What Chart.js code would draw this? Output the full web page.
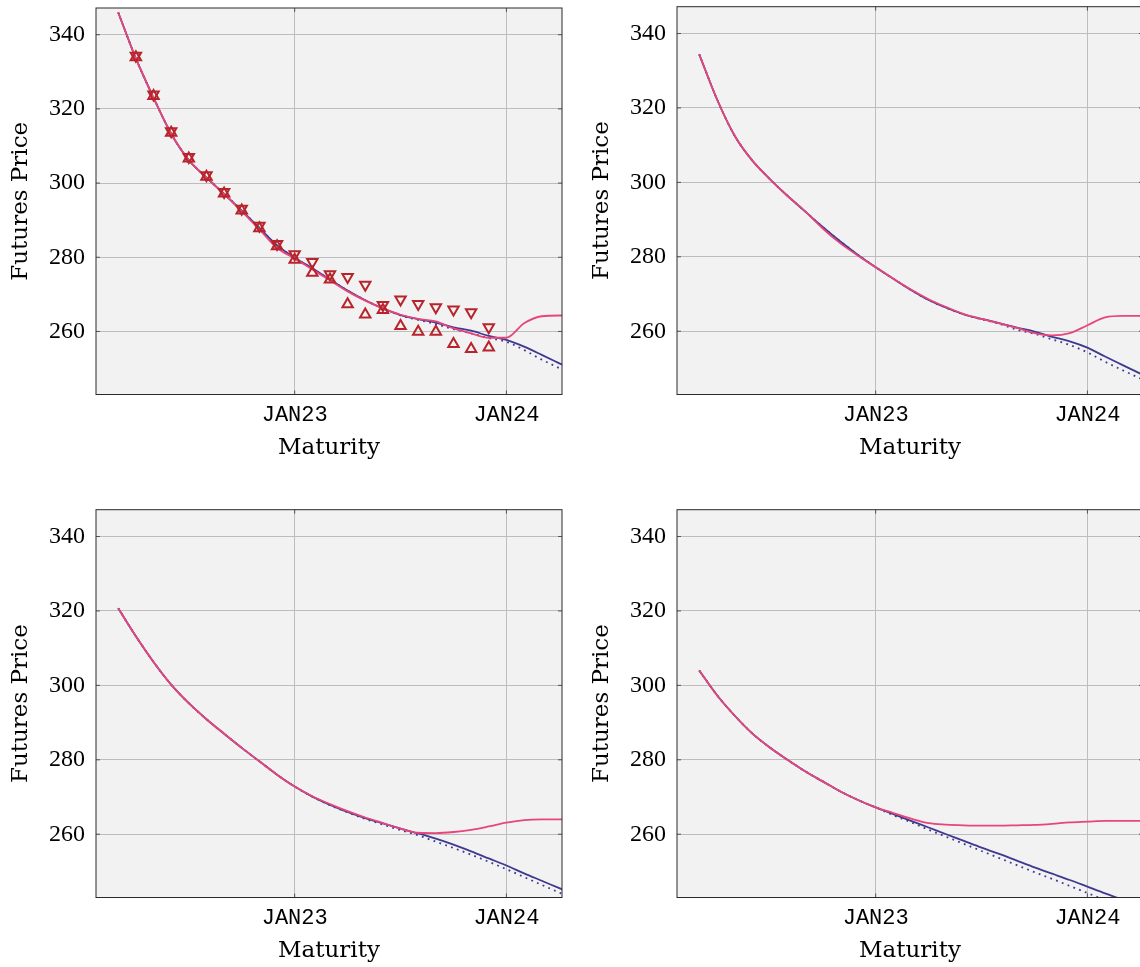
<!DOCTYPE html>
<html>
<head>
<meta charset="utf-8">
<script src="https://cdn.jsdelivr.net/npm/chart.js@4.4.0/dist/chart.umd.min.js"></script>
<style>
  html, body { margin: 0; padding: 0; background: #fff; overflow: hidden; width: 1140px; height: 967px; }
  canvas { position: absolute; }
</style>
</head>
<body>
<canvas id="c1" width="572" height="470" style="left:0px;top:0px"></canvas>
<canvas id="c2" width="572" height="470" style="left:581px;top:0px"></canvas>
<canvas id="c3" width="572" height="470" style="left:0px;top:503px"></canvas>
<canvas id="c4" width="572" height="470" style="left:581px;top:503px"></canvas>
<script>
// maturities of the curves and of the quoted contracts
const maturities = ['MAR22', 'APR22', 'MAY22', 'JUN22', 'JUL22', 'AUG22', 'SEP22', 'OCT22', 'NOV22', 'DEC22',
  'JAN23', 'FEB23', 'MAR23', 'APR23', 'MAY23', 'JUN23', 'JUL23', 'AUG23', 'SEP23', 'OCT23', 'NOV23', 'DEC23',
  'JAN24', 'FEB24', 'MAR24', 'APR24', 'MAY24'];
const quoteMaturities = maturities.slice(1, 22);
const xTickLabels = ['JAN23', 'JAN24'];
const yTickValues = [260, 280, 300, 320, 340];

// panel 1 (top left)
const solidA  = [346.0, 333.6, 323.0, 313.3, 306.2, 301.5, 297.1, 292.6, 287.9, 283.2, 279.9, 277.0, 274.0, 271.0, 268.4, 266.2, 264.4, 263.3, 262.4, 261.1, 260.2, 258.8, 257.7, 255.9, 253.7, 251.4, 249.1];
const dottedA = [346.0, 333.6, 323.0, 313.3, 306.2, 301.5, 297.1, 292.6, 287.9, 283.2, 279.9, 277.0, 274.0, 271.0, 268.4, 266.2, 264.3, 263.1, 262.0, 260.6, 259.5, 258.2, 257.2, 255.0, 252.4, 250.1, 247.7];
const pinkA   = [346.0, 333.6, 323.0, 313.3, 306.2, 301.5, 297.0, 292.4, 287.5, 282.5, 279.7, 276.7, 273.8, 270.8, 268.3, 266.2, 264.5, 263.4, 262.7, 260.8, 259.5, 258.3, 258.3, 262.2, 264.1, 264.3, 264.3];
const askA = [334.3, 323.9, 314.0, 307.0, 302.1, 297.6, 293.1, 288.5, 283.6, 280.8, 278.7, 275.4, 274.7, 272.6, 267.1, 268.6, 267.4, 266.5, 265.9, 265.2, 261.1];
const bidA = [333.9, 323.5, 313.6, 306.6, 301.7, 297.2, 292.6, 287.8, 283.0, 279.3, 275.8, 274.0, 267.3, 264.6, 265.8, 261.5, 259.9, 259.9, 256.6, 255.3, 255.7];

// panel 2 (top right)
const solidB  = [334.4, 322.4, 312.6, 305.9, 300.9, 296.4, 292.2, 288.0, 284.1, 280.5, 277.2, 274.1, 271.1, 268.4, 266.3, 264.5, 263.3, 262.2, 261.0, 259.9, 258.5, 257.3, 255.6, 253.2, 250.9, 248.6, 246.3];
const dottedB = [334.4, 322.4, 312.6, 305.9, 300.9, 296.4, 292.2, 288.0, 284.1, 280.5, 277.2, 274.1, 271.1, 268.4, 266.3, 264.5, 263.2, 262.0, 260.4, 259.3, 257.8, 256.3, 254.3, 251.8, 249.5, 247.3, 245.1];
const pinkB   = [334.4, 322.4, 312.6, 305.9, 300.9, 296.4, 292.2, 287.6, 283.6, 280.3, 277.2, 274.1, 271.2, 268.6, 266.5, 264.6, 263.3, 262.1, 260.9, 259.5, 258.9, 259.5, 261.6, 263.7, 264.1, 264.1, 264.1];

// panel 3 (bottom left)
const solidC  = [320.7, 313.2, 306.3, 300.2, 295.2, 290.9, 287.0, 283.2, 279.6, 276.0, 272.8, 270.1, 267.9, 266.0, 264.3, 262.9, 261.5, 260.2, 258.8, 257.2, 255.4, 253.5, 251.6, 249.5, 247.5, 245.5, 243.5];
const dottedC = [320.7, 313.2, 306.3, 300.2, 295.2, 290.9, 287.0, 283.2, 279.6, 276.0, 272.8, 270.1, 267.8, 265.9, 264.1, 262.6, 261.1, 259.7, 258.0, 256.3, 254.5, 252.6, 250.6, 248.5, 246.4, 244.3, 242.2];
const pinkC   = [320.7, 313.2, 306.3, 300.2, 295.2, 290.9, 287.0, 283.2, 279.6, 276.0, 272.8, 270.2, 268.1, 266.2, 264.5, 263.0, 261.5, 260.4, 260.3, 260.6, 261.2, 262.1, 263.1, 263.8, 264.0, 264.0, 264.0];

// panel 4 (bottom right)
const solidD  = [304.0, 297.4, 291.9, 287.1, 283.3, 280.0, 276.9, 274.2, 271.5, 269.2, 267.2, 265.4, 263.6, 261.8, 260.0, 258.2, 256.4, 254.7, 252.9, 251.1, 249.4, 247.7, 245.9, 244.1, 242.4, 240.6, 238.9];
const dottedD = [304.0, 297.4, 291.9, 287.1, 283.3, 280.0, 276.9, 274.2, 271.5, 269.2, 267.2, 265.1, 263.2, 261.2, 259.3, 257.4, 255.5, 253.6, 251.7, 249.8, 248.0, 246.1, 244.2, 242.3, 240.4, 238.5, 236.6];
const pinkD   = [304.0, 297.4, 291.9, 287.1, 283.3, 280.0, 276.9, 274.2, 271.5, 269.2, 267.2, 265.7, 264.2, 263.0, 262.6, 262.4, 262.3, 262.3, 262.4, 262.5, 262.8, 263.2, 263.4, 263.6, 263.6, 263.6, 263.6];

const MONTHS = ['JAN','FEB','MAR','APR','MAY','JUN','JUL','AUG','SEP','OCT','NOV','DEC'];
// months since JAN22
function toMonths(code) {
  return MONTHS.indexOf(code.slice(0, 3)) + 12 * (parseInt(code.slice(3), 10) - 22);
}
function pts(codes, vals) {
  return codes.map((c, i) => ({ x: toMonths(c), y: vals[i] }));
}

const BLUE = '#3d3a8f';
const PINK = '#e8457a';
const RED = '#b8242b';

const frame = {
  id: 'frame',
  beforeDraw(chart) {
    const { ctx, chartArea: a } = chart;
    ctx.save();
    ctx.fillStyle = '#f2f2f2';
    ctx.fillRect(a.left, a.top, a.right - a.left, a.bottom - a.top);
    ctx.restore();
  },
  afterDatasetsDraw(chart) {
    const { ctx, chartArea: a, scales: { x, y } } = chart;
    ctx.save();
    ctx.strokeStyle = '#555';
    ctx.lineWidth = 1;
    ctx.beginPath();
    y.ticks.forEach(t => {
      const py = y.getPixelForValue(t.value);
      ctx.moveTo(a.left, py); ctx.lineTo(a.left + 4, py);
      ctx.moveTo(a.right, py); ctx.lineTo(a.right - 4, py);
    });
    x.ticks.forEach(t => {
      const px = x.getPixelForValue(t.value);
      ctx.moveTo(px, a.bottom); ctx.lineTo(px, a.bottom - 4);
      ctx.moveTo(px, a.top); ctx.lineTo(px, a.top + 4);
    });
    ctx.stroke();
    ctx.strokeStyle = '#2a2a2a';
    ctx.strokeRect(a.left, a.top, a.right - a.left, a.bottom - a.top);
    ctx.restore();
  }
};

function makePanel(id, solid, dotted, pink, ask, bid) {
  const datasets = [];
  if (ask) {
    datasets.push({
      data: pts(quoteMaturities, ask), showLine: false, order: 0,
      pointStyle: 'triangle', pointRotation: 180, pointRadius: 6,
      pointBorderColor: RED, pointBackgroundColor: 'rgba(0,0,0,0)', pointBorderWidth: 2
    });
    datasets.push({
      data: pts(quoteMaturities, bid), showLine: false, order: 0,
      pointStyle: 'triangle', pointRadius: 6,
      pointBorderColor: RED, pointBackgroundColor: 'rgba(0,0,0,0)', pointBorderWidth: 2
    });
  }
  datasets.push({
    data: pts(maturities, pink), borderColor: PINK, borderWidth: 1.8,
    pointRadius: 0, cubicInterpolationMode: 'monotone', order: 1
  });
  datasets.push({
    data: pts(maturities, dotted), borderColor: BLUE, borderWidth: 1.8, borderDash: [1.8, 4.4],
    pointRadius: 0, cubicInterpolationMode: 'monotone', order: 2
  });
  datasets.push({
    data: pts(maturities, solid), borderColor: BLUE, borderWidth: 1.8,
    pointRadius: 0, cubicInterpolationMode: 'monotone', order: 3
  });

  new Chart(document.getElementById(id), {
    type: 'line',
    data: { datasets },
    plugins: [frame],
    options: {
      responsive: false,
      animation: false,
      devicePixelRatio: 1,
      layout: { padding: { top: 6.7, right: 10, bottom: 0, left: 0 } },
      plugins: { legend: { display: false }, tooltip: { enabled: false } },
      scales: {
        x: {
          type: 'linear',
          min: 0.74,
          max: 27.15,
          afterBuildTicks: s => { s.ticks = xTickLabels.map(l => ({ value: toMonths(l) })); },
          afterFit: s => { s.height = 470 - 394.5; s.paddingLeft = 0; s.paddingRight = 0; },
          ticks: {
            autoSkip: false, maxRotation: 0, padding: 7, color: '#000',
            font: { family: 'Liberation Mono', size: 22 },
            callback: (v, i) => xTickLabels[i]
          },
          grid: { color: '#bdbdbd', lineWidth: 1, drawTicks: false },
          border: { display: false },
          title: {
            display: true, text: 'Maturity', color: '#000',
            font: { family: 'DejaVu Serif', size: 23 },
            padding: { top: 0, bottom: 8 }
          }
        },
        y: {
          min: 243.0,
          max: 347.2,
          afterBuildTicks: s => { s.ticks = yTickValues.map(v => ({ value: v })); },
          afterFit: s => { s.width = 96; s.paddingTop = 0; s.paddingBottom = 0; },
          ticks: {
            padding: 11, color: '#000',
            font: { family: 'Liberation Serif', size: 24 }
          },
          grid: { color: '#bdbdbd', lineWidth: 1, drawTicks: false },
          border: { display: false },
          title: {
            display: true, text: 'Futures Price', color: '#000',
            font: { family: 'DejaVu Serif', size: 23 },
            padding: { top: 7, bottom: 0 }
          }
        }
      }
    }
  });
}

makePanel('c1', solidA, dottedA, pinkA, askA, bidA);
makePanel('c2', solidB, dottedB, pinkB);
makePanel('c3', solidC, dottedC, pinkC);
makePanel('c4', solidD, dottedD, pinkD);
</script>
</body>
</html>
